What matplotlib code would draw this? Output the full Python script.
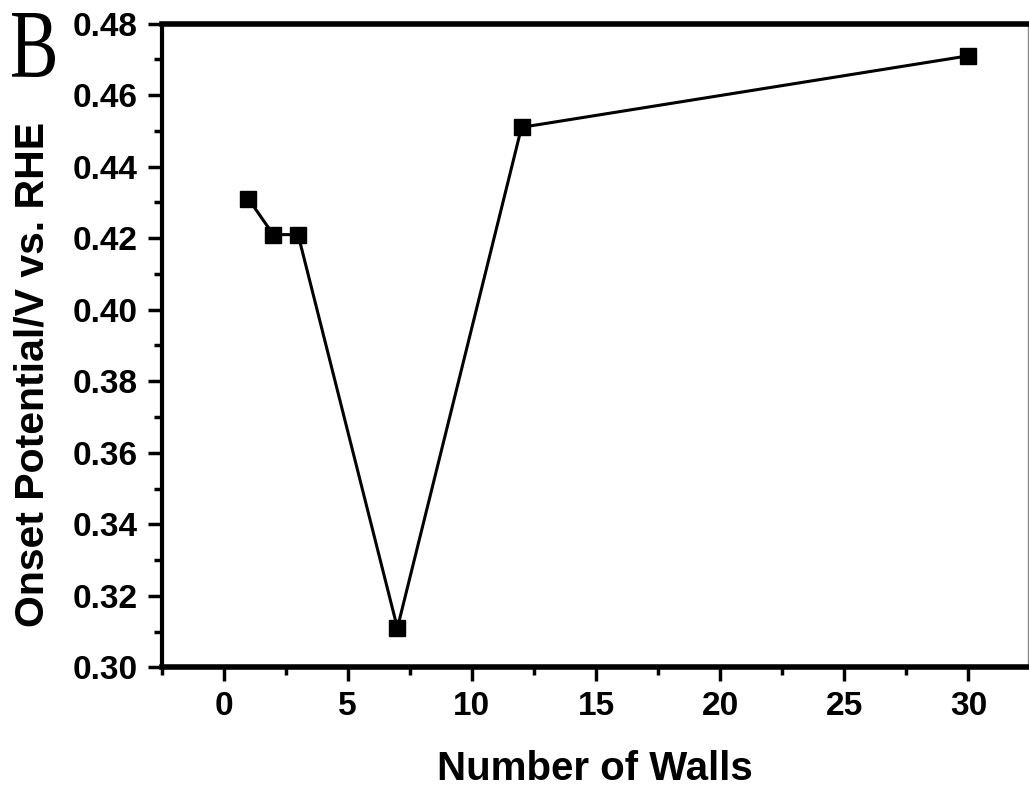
import matplotlib
matplotlib.use("Agg")
import matplotlib.pyplot as plt
from matplotlib.ticker import MultipleLocator
from matplotlib.textpath import TextPath
from matplotlib.font_manager import FontProperties
from matplotlib.patches import PathPatch
from matplotlib.transforms import Affine2D

# number of walls vs onset potential
walls = [1, 2, 3, 7, 12, 30]
onset = [0.431, 0.421, 0.421, 0.311, 0.451, 0.471]

plt.rcParams['font.family'] = ['Liberation Sans', 'DejaVu Sans']

fig = plt.figure(figsize=(10.29, 7.87), dpi=100)
ax = fig.add_axes([0.157, 0.152, 0.842, 0.818])

ax.plot(walls, onset, color='black', lw=2.2, marker='s', markersize=11)

ax.set_xlim(-2.5, 32.4)
ax.set_ylim(0.30, 0.48)
ax.xaxis.set_major_locator(MultipleLocator(5))
ax.xaxis.set_minor_locator(MultipleLocator(2.5))
ax.yaxis.set_major_locator(MultipleLocator(0.02))
ax.yaxis.set_minor_locator(MultipleLocator(0.01))
ax.yaxis.set_major_formatter(plt.FormatStrFormatter('%.2f'))

for side in ['top', 'bottom']:
    ax.spines[side].set_linewidth(4)
ax.spines['left'].set_linewidth(3)
ax.spines['right'].set_linewidth(1)
ax.spines['right'].set_color('#888888')

ax.tick_params(axis='both', which='major', direction='out', length=10, width=2.5,
               labelsize=24, pad=7)
ax.tick_params(axis='both', which='minor', direction='out', length=6, width=2.5)
for lab in ax.get_xticklabels() + ax.get_yticklabels():
    lab.set_fontweight('bold')

ax.set_xlabel('Number of Walls', fontsize=29, fontweight='bold', labelpad=20)
ax.set_ylabel('Onset Potential/V vs. RHE', fontsize=29.5, fontweight='bold')
ax.yaxis.set_label_coords(-0.127, 0.455)

# panel letter: tall narrow serif "B", drawn as a path so it can be stretched
bpath = TextPath((0, 0), 'B', size=1, prop=FontProperties(family='Liberation Serif'))
ext = bpath.get_extents()
W, H = fig.get_size_inches() * fig.dpi
x0, x1, ytop, ybot = 12, 55, 13, 77  # pixel box, from top-left
tr = (Affine2D().translate(-ext.x0, -ext.y0)
      .scale((x1 - x0) / ext.width, (ybot - ytop) / ext.height)
      .translate(x0, H - ybot))
fig.patches.append(PathPatch(bpath, transform=tr, color='black', lw=0, figure=fig))

fig.savefig('out.png', dpi=100)
